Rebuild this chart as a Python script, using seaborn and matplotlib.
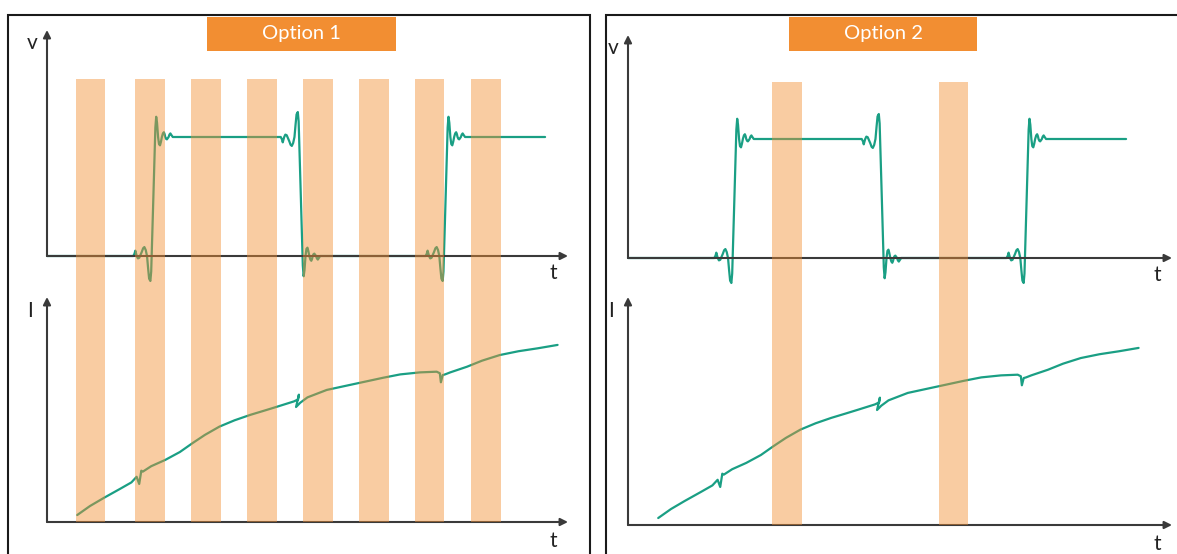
import matplotlib
matplotlib.use("Agg")
import matplotlib.pyplot as plt
from matplotlib.patches import Rectangle
import seaborn as sns

sns.set_style("white")
plt.rcParams["font.family"] = ["Lato", "DejaVu Sans"]

# --- data (time in arbitrary units, 0..100 across the left axis) ---
edge_rise = [20.4, 76.5]          # rising edges of v
edge_fall = [48.7]                # falling edges of v
v_end = 95.6

# shape of one rising edge (offset, level)
rise_dt = [-3.84, -3.6, -3.45, -3.3, -3.17, -2.95, -2.69, -2.45, -2.2, -1.95,
           -1.71, -1.45, -1.2, -1.0, -0.8, -0.56, -0.4, 0.0, 0.4, 0.56,
           0.72, 0.92, 1.1, 1.29, 1.47, 1.65, 1.85, 2.03, 2.17, 2.3,
           2.45, 2.61, 2.78, 2.94, 3.1, 3.28, 3.5, 3.74, 4.22]
rise_v = [0.0, 0.02, 0.045, 0.02, 0.0, -0.02, -0.015, 0.01, 0.035, 0.065,
          0.075, 0.05, 0.0, -0.1, -0.19, -0.21, -0.13, 0.47, 1.08, 1.17,
          1.12, 1.0, 0.94, 0.93, 0.96, 1.0, 1.03, 1.04, 1.025, 1.0,
          0.985, 0.98, 0.99, 1.0, 1.02, 1.03, 1.015, 1.0, 1.0]

# current curve I(t)
cur_t = [5.8, 8.25, 10.9, 14.0, 16.2, 17.2, 17.7, 18.1, 18.4, 20.0, 22.7,
         25.5, 27.9, 30.3, 33.1, 36.0, 39.0, 42.0, 44.1, 47.4, 48.2, 48.35,
         47.8, 48.6, 50.0, 53.7, 57.5, 61.1, 64.5, 67.8, 71.6, 74.8, 75.4,
         75.6, 75.95, 76.4, 77.4, 80.6, 83.5, 86.9, 90.5, 94.2, 98.0]
cur_i = [3.1, 7.1, 10.7, 14.7, 17.6, 20.1, 16.9, 22.8, 22.4, 24.8, 27.6,
         31.1, 35.0, 38.7, 42.4, 45.2, 47.6, 49.7, 51.2, 53.6, 54.5, 56.6,
         51.1, 53.0, 55.4, 58.7, 60.6, 62.4, 64.1, 65.6, 66.5, 66.8, 66.1,
         62.1, 65.3, 65.6, 66.5, 69.0, 71.7, 74.2, 75.9, 77.2, 78.7]

# sampling windows (shaded bars)
bars_opt1 = [8.35, 19.8, 30.5, 41.3, 52.0, 62.8, 73.4, 84.3]
bars_opt2 = [30.5, 62.5]
bar_width = 5.7

titles = ["Option 1", "Option 2"]

# --- build voltage trace from the edge shape ---
v_t, v_v = [0.0], [0.0]
edges = sorted([(e, "r") for e in edge_rise] + [(e, "f") for e in edge_fall])
for e, kind in edges:
    for dt, lv in zip(rise_dt, rise_v):
        v_t.append(e + dt)
        v_v.append(lv if kind == "r" else 1.0 - lv)
v_t.append(v_end)
v_v.append(v_v[-1])

TEAL = "#1a9f84"
ORANGE = "#f28e32"
AXC = "#3a3a3a"
W, H = 1177, 554

fig = plt.figure(figsize=(W / 100, H / 100), dpi=100)


def rect(x0, y0, x1, y1):
    return [x0 / W, 1 - y1 / H, (x1 - x0) / W, (y1 - y0) / H]


def arrows(ax):
    kw = dict(arrowstyle="-|>", color=AXC, lw=1.5, mutation_scale=11,
              shrinkA=0, shrinkB=0)
    ax.annotate("", xy=(1, 0), xytext=(0, 0), xycoords="axes fraction",
                arrowprops=kw)
    ax.annotate("", xy=(0, 1), xytext=(0, 0), xycoords="axes fraction",
                arrowprops=kw)


panels = [
    # axis x0, x1, v top/base, i top/base, bar top, bars, title box, frame
    (47, 568, 30, 256, 297, 522, 79, bars_opt1, 207, 396, 8, 590),
    (628, 1172, 35, 258, 297, 525, 82, bars_opt2, 789, 977, 606, 1190),
]

for k, (x0, x1, vt, vb, it, ib, bt, bars, bx0, bx1, px0, px1) in enumerate(panels):
    xmax = (x1 - x0) / 5.21

    # voltage
    axv = fig.add_axes(rect(x0, vt, x1, vb))
    sns.lineplot(x=v_t, y=v_v, ax=axv, color=TEAL, lw=1.6, sort=False,
                 estimator=None, clip_on=False)
    axv.set_xlim(0, xmax)
    axv.set_ylim(0, (vb - vt) / 119)
    axv.axis("off")
    arrows(axv)

    # current
    axi = fig.add_axes(rect(x0, it, x1, ib))
    sns.lineplot(x=cur_t, y=cur_i, ax=axi, color=TEAL, lw=1.6, sort=False,
                 estimator=None, clip_on=False)
    axi.set_xlim(0, xmax)
    axi.set_ylim(0, (ib - it) / 2.25)
    axi.axis("off")
    arrows(axi)

    # shaded bars on top of everything
    axb = fig.add_axes(rect(x0, bt, x1, ib))
    axb.bar(bars, 1, width=bar_width, bottom=0, color=ORANGE, alpha=0.45,
            linewidth=0, align="center")
    axb.set_xlim(0, xmax)
    axb.set_ylim(0, 1)
    axb.axis("off")

    # labels
    fs = 15
    fig.text((x0 - 15) / W, 1 - (vt + 13) / H, "v", fontsize=fs, color="#222",
             ha="center", va="center")
    fig.text((x1 - 15) / W, 1 - (vb + 17) / H, "t", fontsize=fs, color="#222",
             ha="center", va="center")
    fig.text((x0 - 17) / W, 1 - (it + 14) / H, "I", fontsize=fs, color="#222",
             ha="center", va="center")
    fig.text((x1 - 15) / W, 1 - (ib + 19) / H, "t", fontsize=fs, color="#222",
             ha="center", va="center")

    # panel frame and title box
    fig.add_artist(Rectangle((px0 / W, -0.05), (px1 - px0) / W, 1 - 15 / H + 0.05,
                             transform=fig.transFigure, fill=False,
                             edgecolor="#1a1a1a", lw=1.5))
    fig.add_artist(Rectangle((bx0 / W, 1 - 51 / H), (bx1 - bx0) / W, 34 / H,
                             transform=fig.transFigure, facecolor=ORANGE,
                             edgecolor="none"))
    fig.text((bx0 + bx1) / 2 / W, 1 - 34 / H, titles[k], color="white",
             fontsize=14.5, ha="center", va="center")

fig.savefig("out.png", dpi=100)
